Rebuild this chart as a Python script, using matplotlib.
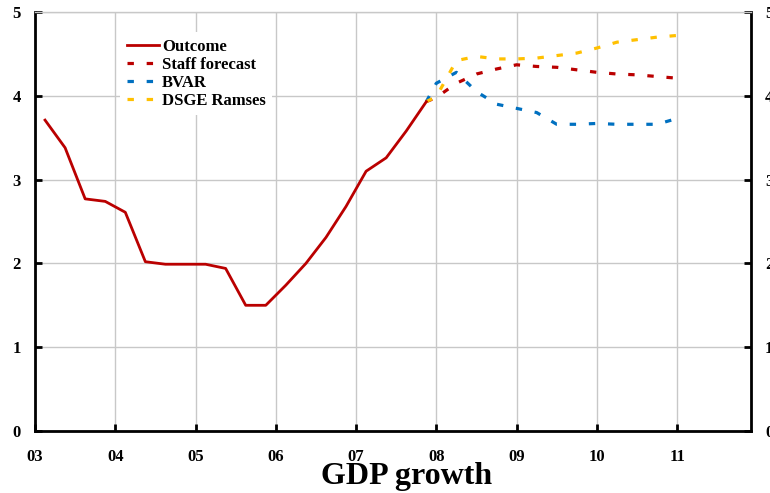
import numpy as np
import matplotlib
matplotlib.use("Agg")
import matplotlib.pyplot as plt

plt.rcParams['font.family'] = ['Liberation Serif', 'DejaVu Serif']
plt.rcParams['font.weight'] = 'bold'

# quarterly outcome, 2003Q1 .. 2007Q4
outcome = [3.71, 3.38, 2.77, 2.74, 2.61, 2.02, 1.99, 1.99,
           1.99, 1.94, 1.50, 1.50, 1.74, 2.00, 2.31, 2.68,
           3.10, 3.26, 3.58, 3.93]
# forecasts: start at last outcome, then 2008Q1 .. 2011Q1
staff = [3.93, 3.98, 4.15, 4.26, 4.32, 4.37, 4.35, 4.34, 4.31, 4.28, 4.26, 4.25, 4.23, 4.21]
bvar = [3.93, 4.15, 4.28, 4.05, 3.90, 3.85, 3.80, 3.66, 3.66, 3.67, 3.66, 3.66, 3.66, 3.73]
dsge = [3.93, 3.99, 4.42, 4.47, 4.44, 4.44, 4.45, 4.48, 4.51, 4.57, 4.64, 4.67, 4.70, 4.72]

years = list(range(3, 12))
year_labels = ["%02d" % y for y in years]

out_x = 3 + (np.arange(len(outcome)) + 0.5) / 4
fc_x = np.r_[out_x[-1], 8 + np.arange(len(staff) - 1) / 4]

RED = "#BA0000"
BLUE = "#0070C0"
YELLOW = "#FFC000"

fig = plt.figure(figsize=(7.7, 4.93), dpi=100)
ax = fig.add_axes([35 / 770, 62 / 493, 716 / 770, 419 / 493])

ax.plot(out_x, outcome, color=RED, lw=2.0, label="Outcome", zorder=4)
ax.plot(fc_x, staff, color=RED, lw=2.3, dashes=(2, 4), label="Staff forecast", zorder=3)
ax.plot(fc_x, bvar, color=BLUE, lw=2.3, dashes=(2, 4), label="BVAR", zorder=3)
ax.plot(fc_x, dsge, color=YELLOW, lw=2.3, dashes=(2, 4), label="DSGE Ramses", zorder=3)

ax.set_xlim(3, 11.92)
ax.set_ylim(0, 5)
ax.set_xticks(years)
ax.set_xticklabels(year_labels)
ax.set_yticks(range(0, 6))

ax.grid(True, color="#c8c8c8", lw=1)
ax.set_axisbelow(True)

for side in ["left", "bottom", "right"]:
    ax.spines[side].set_linewidth(2)
    ax.spines[side].set_color("black")
ax.spines["top"].set_color("#c8c8c8")
ax.spines["top"].set_linewidth(1)

ax.tick_params(axis="both", direction="in", length=5, width=2, labelsize=12)
ax.tick_params(axis="y", right=True, labelright=True, pad=10)
ax.tick_params(axis="x", pad=13)
for t in ax.yaxis.get_major_ticks():
    t.label1.set_fontweight("bold")
    t.label2.set_fontweight("bold")
for lbl in ax.get_xticklabels():
    lbl.set_fontweight("bold")

leg = ax.legend(loc="upper left", bbox_to_anchor=(0.119, 0.952), borderaxespad=0,
                frameon=True, fancybox=False, framealpha=1, edgecolor="none",
                facecolor="white", prop={"weight": "bold", "size": 12},
                handlelength=1.9, handletextpad=0.2, labelspacing=0.12,
                borderpad=0.4)
leg.set_zorder(5)

fig.text(407 / 770, 9 / 493, "GDP growth", ha="center", va="baseline",
         fontsize=23, fontweight="bold")

fig.savefig("out.png", dpi=100)
